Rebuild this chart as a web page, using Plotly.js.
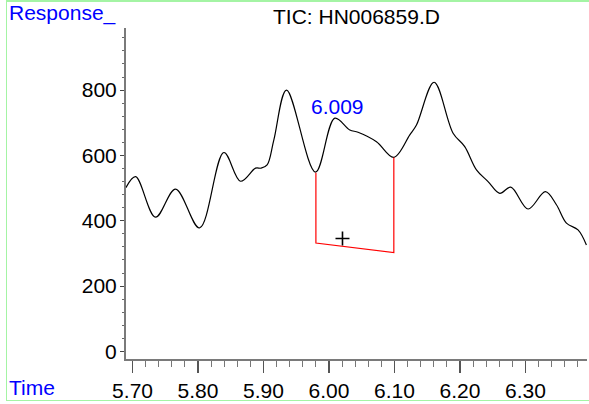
<!DOCTYPE html>
<html>
<head>
<meta charset="utf-8">
<script src="https://cdn.plot.ly/plotly-3.0.1.min.js"></script>
<style>
  html, body { margin: 0; padding: 0; background: #fff; }
  #wrap { position: relative; width: 589px; height: 404px; }
  #chart { width: 589px; height: 404px; }
  #frame { position: absolute; left: 6px; top: 0; width: 583px; height: 398px;
           border-top: 2px solid #a4f4a4; border-left: 1px solid #a4f4a4; border-bottom: 1px solid #a4f4a4;
           pointer-events: none; }
</style>
</head>
<body>
<div id="wrap"><div id="chart"></div><div id="frame"></div></div>
<script>
// Chromatogram trace (time in min, abundance)
const time = [5.6898, 5.7046, 5.7351, 5.7656, 5.8023, 5.8394, 5.8649, 5.8878, 5.8963, 5.9055,
              5.9157, 5.9351, 5.9794, 6.0089, 6.0318, 6.0444, 6.0725, 6.0989, 6.1234, 6.1336,
              6.1605, 6.1895, 6.2073, 6.2252, 6.2429, 6.2608, 6.2776, 6.3040, 6.3305, 6.3473,
              6.3626, 6.3803, 6.3931];
const response = [501, 535, 411, 497, 378, 609, 521, 561, 561, 571,
                  647, 800, 549, 714, 678, 671, 642, 594, 663, 693,
                  824, 668, 627, 556, 520, 484, 503, 436, 489, 449,
                  393, 372, 326];

// Integration region (peak 6.009)
const integX = [5.980, 5.980, 6.099, 6.099];
const integY = [547, 332, 303, 594];
const centroidX = [6.0206];
const centroidY = [346];
const peakLabel = "6.009";
const peakLabelX = 6.0134;
const peakLabelY = 750;

const titleText = "TIC: HN006859.D";
const yTitle = "Response_";
const xTitle = "Time";

const FONT = "Liberation Sans, Arial, Helvetica, sans-serif";
const FS = 21;

const traces = [
  { x: time, y: response, type: "scatter", mode: "lines",
    line: { color: "#000", width: 1.2, shape: "spline", smoothing: 1 }, hoverinfo: "skip" },
  { x: integX, y: integY, type: "scatter", mode: "lines",
    line: { color: "#ff0000", width: 1.2 }, hoverinfo: "skip" },
  { x: centroidX, y: centroidY, type: "scatter", mode: "markers",
    marker: { symbol: "cross-thin", size: 10, line: { color: "#000", width: 1.6 } }, hoverinfo: "skip" }
];

const layout = {
  width: 589, height: 404,
  margin: { l: 126, r: 2, t: 28, b: 45 },
  paper_bgcolor: "#fff", plot_bgcolor: "#fff",
  showlegend: false,
  font: { family: FONT, size: FS, color: "#000" },
  xaxis: {
    range: [5.69, 6.394], showgrid: false, zeroline: false,
    showline: true, linecolor: "#7a7a7a", linewidth: 1.5,
    ticks: "outside", ticklen: 12, tickwidth: 1.2, tickcolor: "#555",
    tick0: 5.7, dtick: 0.1, tickformat: ".2f",
    tickfont: { family: FONT, size: FS, color: "#000" },
    minor: { dtick: 0.02, ticks: "outside", ticklen: 6, tickwidth: 1, tickcolor: "#777", showgrid: false }
  },
  yaxis: {
    range: [-23, 990], showgrid: false, zeroline: false,
    showline: true, linecolor: "#7a7a7a", linewidth: 2,
    ticks: "outside", ticklen: 4, tickwidth: 1, tickcolor: "#444",
    tick0: 0, dtick: 200, ticklabelstandoff: -1,
    tickfont: { family: FONT, size: FS, color: "#000" },
    minor: { dtick: 40, ticks: "outside", ticklen: 2, tickwidth: 1, tickcolor: "#666", showgrid: false }
  },
  annotations: [
    { text: titleText, xref: "paper", yref: "paper", x: 0.499, y: 1.036, xanchor: "center", yanchor: "middle",
      showarrow: false, font: { family: FONT, size: FS, color: "#000" } },
    { text: yTitle, xref: "paper", yref: "paper", x: -0.258, y: 1.045, xanchor: "left", yanchor: "middle",
      showarrow: false, font: { family: FONT, size: FS, color: "#0000ff" } },
    { text: xTitle, xref: "paper", yref: "paper", x: -0.258, y: -0.085, xanchor: "left", yanchor: "middle",
      showarrow: false, font: { family: FONT, size: FS, color: "#0000ff" } },
    { text: peakLabel, xref: "x", yref: "y", x: peakLabelX, y: peakLabelY, xanchor: "center", yanchor: "middle",
      showarrow: false, font: { family: FONT, size: FS, color: "#0000ff" } }
  ]
};

Plotly.newPlot("chart", traces, layout, { staticPlot: true, displayModeBar: false });
</script>
</body>
</html>
